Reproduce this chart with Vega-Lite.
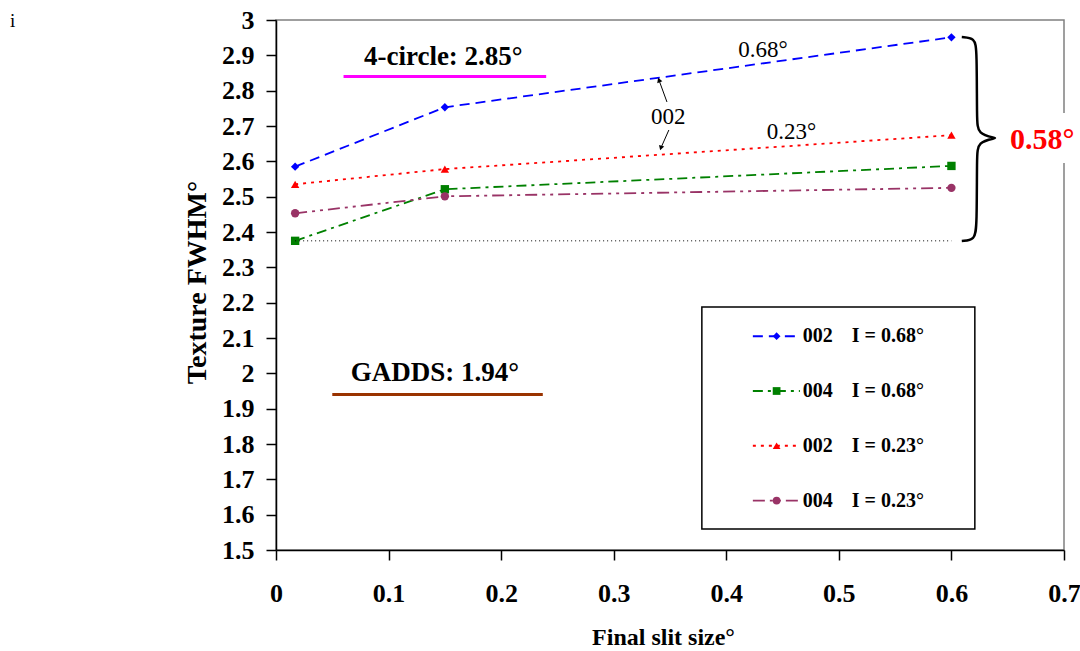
{
  "$schema": "https://vega.github.io/schema/vega-lite/v6.json",
  "width": 788,
  "height": 530,
  "autosize": {"type": "none"},
  "padding": {"left": 276, "top": 20, "right": 16, "bottom": 101},
  "background": "white",
  "config": {
    "view": {"stroke": "#808080", "strokeWidth": 1.5},
    "font": "Liberation Serif",
    "axis": {
      "domainColor": "#000000", "domainWidth": 1.5,
      "tickColor": "#000000", "tickWidth": 1.5, "tickSize": 10,
      "grid": false, "labelFlush": false, "labelOverlap": false,
      "labelFont": "Liberation Serif", "labelFontSize": 26, "labelFontWeight": "bold", "labelColor": "#000000",
      "titleFont": "Liberation Serif", "titleFontSize": 24, "titleFontWeight": "bold", "titleColor": "#000000"
    },
    "axisX": {"labelPadding": 20, "titleX": 387, "titleY": 87, "titleBaseline": "middle"},
    "axisY": {"labelPadding": 12, "titleX": -79, "titleY": 262, "titleBaseline": "middle", "titleAngle": 270, "titleFontSize": 28}
  },
  "datasets": {
    "series": [
      {"series": "002 I = 0.68°", "x": 0.017, "y": 2.585},
      {"series": "002 I = 0.68°", "x": 0.15, "y": 2.753},
      {"series": "002 I = 0.68°", "x": 0.6, "y": 2.951},
      {"series": "004 I = 0.68°", "x": 0.017, "y": 2.375},
      {"series": "004 I = 0.68°", "x": 0.15, "y": 2.521},
      {"series": "004 I = 0.68°", "x": 0.6, "y": 2.587},
      {"series": "002 I = 0.23°", "x": 0.017, "y": 2.535},
      {"series": "002 I = 0.23°", "x": 0.15, "y": 2.578},
      {"series": "002 I = 0.23°", "x": 0.6, "y": 2.674},
      {"series": "004 I = 0.23°", "x": 0.017, "y": 2.453},
      {"series": "004 I = 0.23°", "x": 0.15, "y": 2.501},
      {"series": "004 I = 0.23°", "x": 0.6, "y": 2.525}
    ],
    "fourCircle": [{"x": 0.06, "x2": 0.24, "y": 2.84}],
    "gadds": [{"x": 0.05, "x2": 0.237, "y": 1.94}],
    "minLine": [{"x": 0.017, "x2": 0.6, "y": 2.375}],
    "arrows": [
      {"x": 0.3473, "y": 2.768, "x2": 0.3402, "y2": 2.83},
      {"x": 0.349, "y": 2.6887, "x2": 0.3419, "y2": 2.6377}
    ],
    "headUp": [{"x": 0.3402, "y": 2.8302}],
    "headDown": [{"x": 0.3419, "y": 2.6377}],
    "brace": [
      {"o": 0, "x": 0.6092, "y": 2.9519},
      {"o": 1, "x": 0.6208, "y": 2.9491},
      {"o": 2, "x": 0.6226, "y": 2.9151},
      {"o": 3, "x": 0.6226, "y": 2.717},
      {"o": 4, "x": 0.6234, "y": 2.6773},
      {"o": 5, "x": 0.6394, "y": 2.666},
      {"o": 6, "x": 0.6394, "y": 2.666},
      {"o": 7, "x": 0.6234, "y": 2.6547},
      {"o": 8, "x": 0.6226, "y": 2.6151},
      {"o": 9, "x": 0.6226, "y": 2.4169},
      {"o": 10, "x": 0.6208, "y": 2.3773},
      {"o": 11, "x": 0.6092, "y": 2.3745}
    ],
    "gapBox": [{"x": 0.6485, "x2": 0.7125, "y": 2.5952, "y2": 2.7368}],
    "redNote": [{"text": "0.58°", "x": 0.6807, "y": 2.66}],
    "boldNotes": [
      {"text": "4-circle: 2.85°", "x": 0.1486, "y": 2.896},
      {"text": "GADDS: 1.94°", "x": 0.1412, "y": 2.0}
    ],
    "plainNotes": [
      {"text": "0.68°", "x": 0.4325, "y": 2.915},
      {"text": "0.23°", "x": 0.458, "y": 2.684},
      {"text": "002", "x": 0.3484, "y": 2.726}
    ],
    "cornerNote": [{"text": "i", "x": -0.234, "y": 2.998}],
    "legendBox": [{"x": 0.3783, "x2": 0.6208, "y": 1.5593, "y2": 2.1877}],
    "legend": [
      {"series": "002 I = 0.68°", "code": "002", "inc": "I = 0.68°", "y": 2.105},
      {"series": "004 I = 0.68°", "code": "004", "inc": "I = 0.68°", "y": 1.95},
      {"series": "002 I = 0.23°", "code": "002", "inc": "I = 0.23°", "y": 1.795},
      {"series": "004 I = 0.23°", "code": "004", "inc": "I = 0.23°", "y": 1.64}
    ]
  },
  "layer": [
    {
      "data": {"name": "series"},
      "mark": {"type": "line", "strokeWidth": 1.8},
      "encoding": {
        "x": {"field": "x", "type": "quantitative",
              "scale": {"domain": [0, 0.7], "nice": false, "zero": false},
              "axis": {"title": "Final slit size°", "values": [0, 0.1, 0.2, 0.3, 0.4, 0.5, 0.6, 0.7], "tickCount": 20, "format": "~g", "labelOverlap": false}},
        "y": {"field": "y", "type": "quantitative",
              "scale": {"domain": [1.5, 3], "nice": false, "zero": false},
              "axis": {"title": "Texture FWHM°", "values": [1.5, 1.6, 1.7, 1.8, 1.9, 2, 2.1, 2.2, 2.3, 2.4, 2.5, 2.6, 2.7, 2.8, 2.9, 3], "tickCount": 30, "format": "~g", "labelOverlap": false}},
        "color": {"field": "series", "type": "nominal",
                  "scale": {"domain": ["002 I = 0.68°", "004 I = 0.68°", "002 I = 0.23°", "004 I = 0.23°"],
                            "range": ["#0000ff", "#008000", "#ff0000", "#993366"]},
                  "legend": null},
        "strokeDash": {"field": "series", "type": "nominal",
                       "scale": {"domain": ["002 I = 0.68°", "004 I = 0.68°", "002 I = 0.23°", "004 I = 0.23°"],
                                 "range": [[10, 6], [10, 5, 3, 5], [3, 5], [12, 5, 3, 5, 3, 5]]},
                       "legend": null}
      }
    },
    {
      "data": {"name": "series"},
      "mark": {"type": "point", "filled": true, "opacity": 1, "size": 70},
      "encoding": {
        "x": {"field": "x", "type": "quantitative"},
        "y": {"field": "y", "type": "quantitative"},
        "color": {"field": "series", "type": "nominal", "legend": null},
        "shape": {"field": "series", "type": "nominal",
                  "scale": {"domain": ["002 I = 0.68°", "004 I = 0.68°", "002 I = 0.23°", "004 I = 0.23°"],
                            "range": ["diamond", "square", "triangle-up", "circle"]},
                  "legend": null}
      }
    },
    {
      "data": {"name": "fourCircle"},
      "mark": {"type": "rule", "color": "#ff00ff", "strokeWidth": 3},
      "encoding": {
        "x": {"field": "x", "type": "quantitative"},
        "x2": {"field": "x2"},
        "y": {"field": "y", "type": "quantitative"}
      }
    },
    {
      "data": {"name": "gadds"},
      "mark": {"type": "rule", "color": "#993300", "strokeWidth": 3},
      "encoding": {
        "x": {"field": "x", "type": "quantitative"},
        "x2": {"field": "x2"},
        "y": {"field": "y", "type": "quantitative"}
      }
    },
    {
      "data": {"name": "minLine"},
      "mark": {"type": "rule", "color": "#000000", "strokeWidth": 1, "strokeDash": [1, 3]},
      "encoding": {
        "x": {"field": "x", "type": "quantitative"},
        "x2": {"field": "x2"},
        "y": {"field": "y", "type": "quantitative"}
      }
    },
    {
      "data": {"name": "arrows"},
      "mark": {"type": "rule", "color": "#000000", "strokeWidth": 1},
      "encoding": {
        "x": {"field": "x", "type": "quantitative"},
        "y": {"field": "y", "type": "quantitative"},
        "x2": {"field": "x2"},
        "y2": {"field": "y2"}
      }
    },
    {
      "data": {"name": "headUp"},
      "mark": {"type": "point", "shape": "triangle-up", "filled": true, "opacity": 1, "color": "#000000", "size": 30, "angle": 340},
      "encoding": {
        "x": {"field": "x", "type": "quantitative"},
        "y": {"field": "y", "type": "quantitative"}
      }
    },
    {
      "data": {"name": "headDown"},
      "mark": {"type": "point", "shape": "triangle-up", "filled": true, "opacity": 1, "color": "#000000", "size": 30, "angle": 198},
      "encoding": {
        "x": {"field": "x", "type": "quantitative"},
        "y": {"field": "y", "type": "quantitative"}
      }
    },
    {
      "data": {"name": "brace"},
      "mark": {"type": "line", "color": "#000000", "strokeWidth": 2.5, "interpolate": "basis"},
      "encoding": {
        "x": {"field": "x", "type": "quantitative"},
        "y": {"field": "y", "type": "quantitative"},
        "order": {"field": "o", "type": "quantitative"}
      }
    },
    {
      "data": {"name": "gapBox"},
      "mark": {"type": "rect", "fill": "#ffffff", "stroke": null},
      "encoding": {
        "x": {"field": "x", "type": "quantitative"},
        "x2": {"field": "x2"},
        "y": {"field": "y", "type": "quantitative"},
        "y2": {"field": "y2"}
      }
    },
    {
      "data": {"name": "redNote"},
      "mark": {"type": "text", "font": "Liberation Serif", "fontSize": 30, "fontWeight": "bold", "color": "#ff0000", "align": "center", "baseline": "middle"},
      "encoding": {
        "x": {"field": "x", "type": "quantitative"},
        "y": {"field": "y", "type": "quantitative"},
        "text": {"field": "text"}
      }
    },
    {
      "data": {"name": "boldNotes"},
      "mark": {"type": "text", "font": "Liberation Serif", "fontSize": 27, "fontWeight": "bold", "color": "#000000", "align": "center", "baseline": "middle"},
      "encoding": {
        "x": {"field": "x", "type": "quantitative"},
        "y": {"field": "y", "type": "quantitative"},
        "text": {"field": "text"}
      }
    },
    {
      "data": {"name": "plainNotes"},
      "mark": {"type": "text", "font": "Liberation Serif", "fontSize": 23, "color": "#000000", "align": "center", "baseline": "middle"},
      "encoding": {
        "x": {"field": "x", "type": "quantitative"},
        "y": {"field": "y", "type": "quantitative"},
        "text": {"field": "text"}
      }
    },
    {
      "data": {"name": "cornerNote"},
      "mark": {"type": "text", "font": "Liberation Serif", "fontSize": 19, "color": "#000000", "align": "center", "baseline": "middle"},
      "encoding": {
        "x": {"field": "x", "type": "quantitative"},
        "y": {"field": "y", "type": "quantitative"},
        "text": {"field": "text"}
      }
    },
    {
      "data": {"name": "legendBox"},
      "mark": {"type": "rect", "fill": "#ffffff", "stroke": "#000000", "strokeWidth": 1.5},
      "encoding": {
        "x": {"field": "x", "type": "quantitative"},
        "x2": {"field": "x2"},
        "y": {"field": "y", "type": "quantitative"},
        "y2": {"field": "y2"}
      }
    },
    {
      "data": {"name": "legend"},
      "mark": {"type": "rule", "strokeWidth": 1.8},
      "encoding": {
        "x": {"datum": 0.4236, "type": "quantitative"},
        "x2": {"datum": 0.4654},
        "y": {"field": "y", "type": "quantitative"},
        "color": {"field": "series", "type": "nominal", "legend": null},
        "strokeDash": {"field": "series", "type": "nominal", "legend": null}
      }
    },
    {
      "data": {"name": "legend"},
      "mark": {"type": "point", "filled": true, "opacity": 1, "size": 60},
      "encoding": {
        "x": {"datum": 0.4447, "type": "quantitative"},
        "y": {"field": "y", "type": "quantitative"},
        "color": {"field": "series", "type": "nominal", "legend": null},
        "shape": {"field": "series", "type": "nominal", "legend": null}
      }
    },
    {
      "data": {"name": "legend"},
      "mark": {"type": "text", "font": "Liberation Serif", "fontSize": 20, "fontWeight": "bold", "color": "#000000", "align": "left", "baseline": "middle"},
      "encoding": {
        "x": {"datum": 0.468, "type": "quantitative"},
        "y": {"field": "y", "type": "quantitative"},
        "text": {"field": "code"}
      }
    },
    {
      "data": {"name": "legend"},
      "mark": {"type": "text", "font": "Liberation Serif", "fontSize": 20, "fontWeight": "bold", "color": "#000000", "align": "left", "baseline": "middle"},
      "encoding": {
        "x": {"datum": 0.5115, "type": "quantitative"},
        "y": {"field": "y", "type": "quantitative"},
        "text": {"field": "inc"}
      }
    }
  ]
}
